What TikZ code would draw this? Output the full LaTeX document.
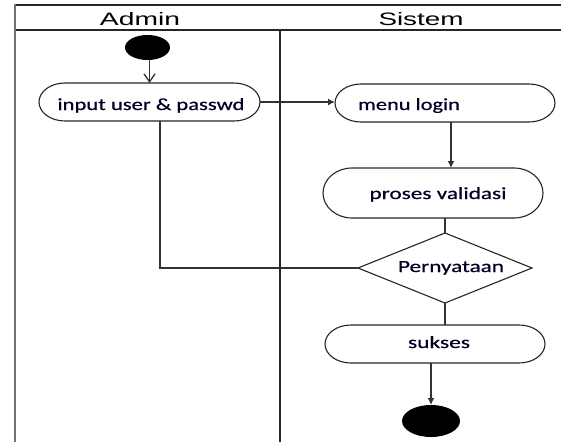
\documentclass[tikz,border=0pt]{standalone}
\usepackage{fontspec}
\usepackage{graphicx}
\setmainfont{Carlito}[FakeBold=0.5]
\newfontfamily\lanefont{Liberation Sans}
\usetikzlibrary{shapes.geometric,arrows.meta,calc}
\newcommand\stxt[3]{\resizebox{#1pt}{\height}{\fontsize{#2}{#2}\selectfont #3}}
\newcommand\stadium[3]{%
  \draw[shapeline] ([xshift=#2pt]#1.north west) -- ([xshift=-#2pt]#1.north east)
    arc[start angle=90,end angle=-90,x radius=#2pt,y radius=#3pt]
    -- ([xshift=#2pt]#1.south west)
    arc[start angle=270,end angle=90,x radius=#2pt,y radius=#3pt] -- cycle;}
\tikzset{
  box/.style={rectangle, draw=none, inner sep=0pt, outer sep=0pt},
  dot/.style={ellipse, fill=black, draw=none, inner sep=0pt, outer sep=0pt},
  txt/.style={inner sep=0pt, outer sep=0pt, anchor=base, text=black!85!blue},
  shapeline/.style={draw=black!85, line width=1.1pt},
  frameline/.style={draw=black!85, line width=1.4pt},
  flow/.style={draw=black!80, line width=1.3pt},
  fillarrow/.style={flow, -{Latex[length=7pt,width=7pt]}},
  openarrow/.style={flow, -{Straight Barb[length=8pt,width=11pt]}}
}
\begin{document}
\begin{tikzpicture}[x=1pt,y=-1pt]
\useasboundingbox (0,0) rectangle (561,442);
\fill[white] (0,0) rectangle (561,442);
% swimlane frame
\draw[frameline] (14,5) -- (561,5);
\draw[frameline] (14,30) -- (561,30);
\draw[draw=black!55, line width=2.2pt] (15,4.3) -- (15,442);
\draw[frameline] (280,30) -- (280,442);
\node[txt, text=black] (adm) at (140,25) {\stxt{80}{18}{\lanefont Admin}};
\node[txt, text=black] (sys) at (421,25) {\stxt{85}{18}{\lanefont Sistem}};
% nodes
\node[dot, minimum width=45pt, minimum height=25pt] (start) at (147.5,47.5) {};
\node[box, minimum width=221pt, minimum height=38pt] (input) at (149.5,102) {};
\node[box, minimum width=220pt, minimum height=38pt] (menu) at (445,103) {};
\node[box, minimum width=220pt, minimum height=50pt] (proses) at (433,193) {};
\node[box, minimum width=174pt, minimum height=70pt] (dia) at (445,268) {};
\node[box, minimum width=220pt, minimum height=38pt] (sukses) at (435,344) {};
\node[dot, minimum width=58pt, minimum height=32pt] (end) at (431,421) {};
\stadium{input}{26}{19}
\stadium{menu}{26}{19}
\stadium{proses}{29}{25}
\stadium{sukses}{26}{19}
\draw[shapeline] (dia.north) -- (dia.east) -- (dia.south) -- (dia.west) -- cycle;
% texts
\node[txt] (input-t) at (151,110) {\stxt{187}{17}{input user \& passwd}};
\node[txt] (menu-t) at (409,110) {\stxt{102}{17}{menu login}};
\node[txt] (proses-t) at (438,199) {\stxt{137}{17}{proses validasi}};
\node[txt] (dia-t) at (451,272) {\stxt{106}{17}{Pernyataan}};
\node[txt] (sukses-t) at (439,348) {\stxt{62}{17}{sukses}};
% connectors
\draw[openarrow] (start.south -| input.north) -- (input.north);
\draw[fillarrow] (input.east) -- (menu.west |- input.east);
\draw[fillarrow] ([xshift=6pt]menu.south) -- ([xshift=6pt]menu.south |- proses.north);
\draw[flow] (dia.north |- proses.south) -- (dia.north);
\draw[flow] (dia.south) -- (dia.south |- sukses.north);
\draw[fillarrow] (end.north |- sukses.south) -- (end.north);
\draw[flow] (dia.west) -| ([xshift=10.5pt]input.south);
\end{tikzpicture}
\end{document}
